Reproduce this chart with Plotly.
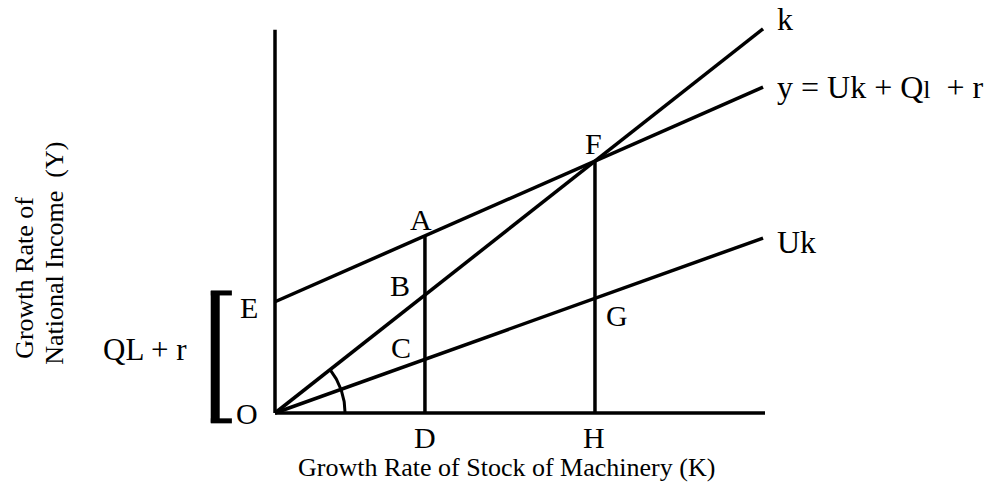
import numpy as np
import plotly.graph_objects as go

# Axes of the diagram (data units)
x_axis_end = 10.0
y_axis_top = 7.82

# Lines drawn from the origin / from E
line_x = [0.0, 9.96]
k_line_y = [0.0, 7.84]          # k
income_line_y = [2.27, 6.65]    # y = Uk + Ql + r  (starts at E)
uk_line_y = [0.0, 3.57]         # Uk

# Verticals at D and H
d_x = 3.06
a_y = 3.61
h_x = 6.53
f_y = 5.13

# Bracket for QL + r (spans O..E)
bracket_top = 2.45
bracket_bottom = -0.16

black = "#000000"
serif = "Liberation Serif, Times New Roman, serif"

fig = go.Figure()


def add_line(xs, ys, width=3.5):
    fig.add_trace(go.Scatter(x=xs, y=ys, mode="lines",
                             line=dict(color=black, width=width),
                             hoverinfo="skip", showlegend=False))


# axes
add_line([0, 0], [0, y_axis_top])
add_line([0, x_axis_end], [0, 0])

# the three lines
add_line(line_x, k_line_y)
add_line(line_x, income_line_y)
add_line(line_x, uk_line_y)

# verticals A-D and F-H
add_line([d_x, d_x], [0, a_y])
add_line([h_x, h_x], [0, f_y])

# angle arc at O between the x axis and k
theta = np.linspace(0, np.arctan2(k_line_y[1], line_x[1]), 40)
r = 1.43
add_line(r * np.cos(theta), r * np.sin(theta), width=3)

# bracket
bx = -1.22
add_line([bx, bx], [bracket_bottom - 0.04, bracket_top + 0.04], width=9)
add_line([bx - 0.09, -0.88], [bracket_top, bracket_top], width=5)
add_line([bx - 0.09, -0.88], [bracket_bottom, bracket_bottom], width=5)

# point labels
labels = [
    ("F", 6.49, 5.51), ("A", 2.98, 3.94), ("B", 2.55, 2.61),
    ("C", 2.57, 1.33), ("E", -0.53, 2.16), ("G", 6.98, 1.98),
    ("O", -0.57, 0.0), ("D", 3.06, -0.51), ("H", 6.51, -0.51),
]
for txt, lx, ly in labels:
    fig.add_annotation(x=lx, y=ly, text=txt, showarrow=False,
                       xanchor="center", yanchor="middle",
                       font=dict(family=serif, size=30, color=black))

line_labels = [
    ("k", 10.2, 8.04),
    ("y = Uk + Q<span style='font-size:26px'>l</span>\u00a0\u00a0+ r", 10.2, 6.65),
    ("Uk", 10.2, 3.49),
]
for txt, lx, ly in line_labels:
    fig.add_annotation(x=lx, y=ly, text=txt, showarrow=False,
                       xanchor="left", yanchor="middle",
                       font=dict(family=serif, size=32, color=black))

fig.add_annotation(x=-2.65, y=1.29, text="QL + r", showarrow=False,
                   xanchor="center", yanchor="middle",
                   font=dict(family=serif, size=31, color=black))

# axis titles
fig.add_annotation(x=4.73, y=-1.12, text="Growth Rate of Stock of Machinery (K)",
                   showarrow=False, xanchor="center", yanchor="middle",
                   font=dict(family=serif, size=26, color=black))
fig.add_annotation(x=-5.10, y=2.76, text="Growth Rate of", textangle=-90,
                   showarrow=False, xanchor="center", yanchor="middle",
                   font=dict(family=serif, size=26, color=black))
fig.add_annotation(x=-4.49, y=3.27, text="National Income\u00a0\u00a0(Y)", textangle=-90,
                   showarrow=False, xanchor="center", yanchor="middle",
                   font=dict(family=serif, size=26, color=black))

fig.update_layout(
    width=994, height=487, autosize=False,
    margin=dict(l=0, r=0, t=0, b=0),
    paper_bgcolor="white", plot_bgcolor="white",
    xaxis=dict(range=[-275 / 49, 719 / 49], visible=False, fixedrange=True),
    yaxis=dict(range=[-74 / 49, 413 / 49], visible=False, fixedrange=True),
)

fig.write_html("out.html", config={"displayModeBar": False},
               post_script="document.body.style.margin='0';")
